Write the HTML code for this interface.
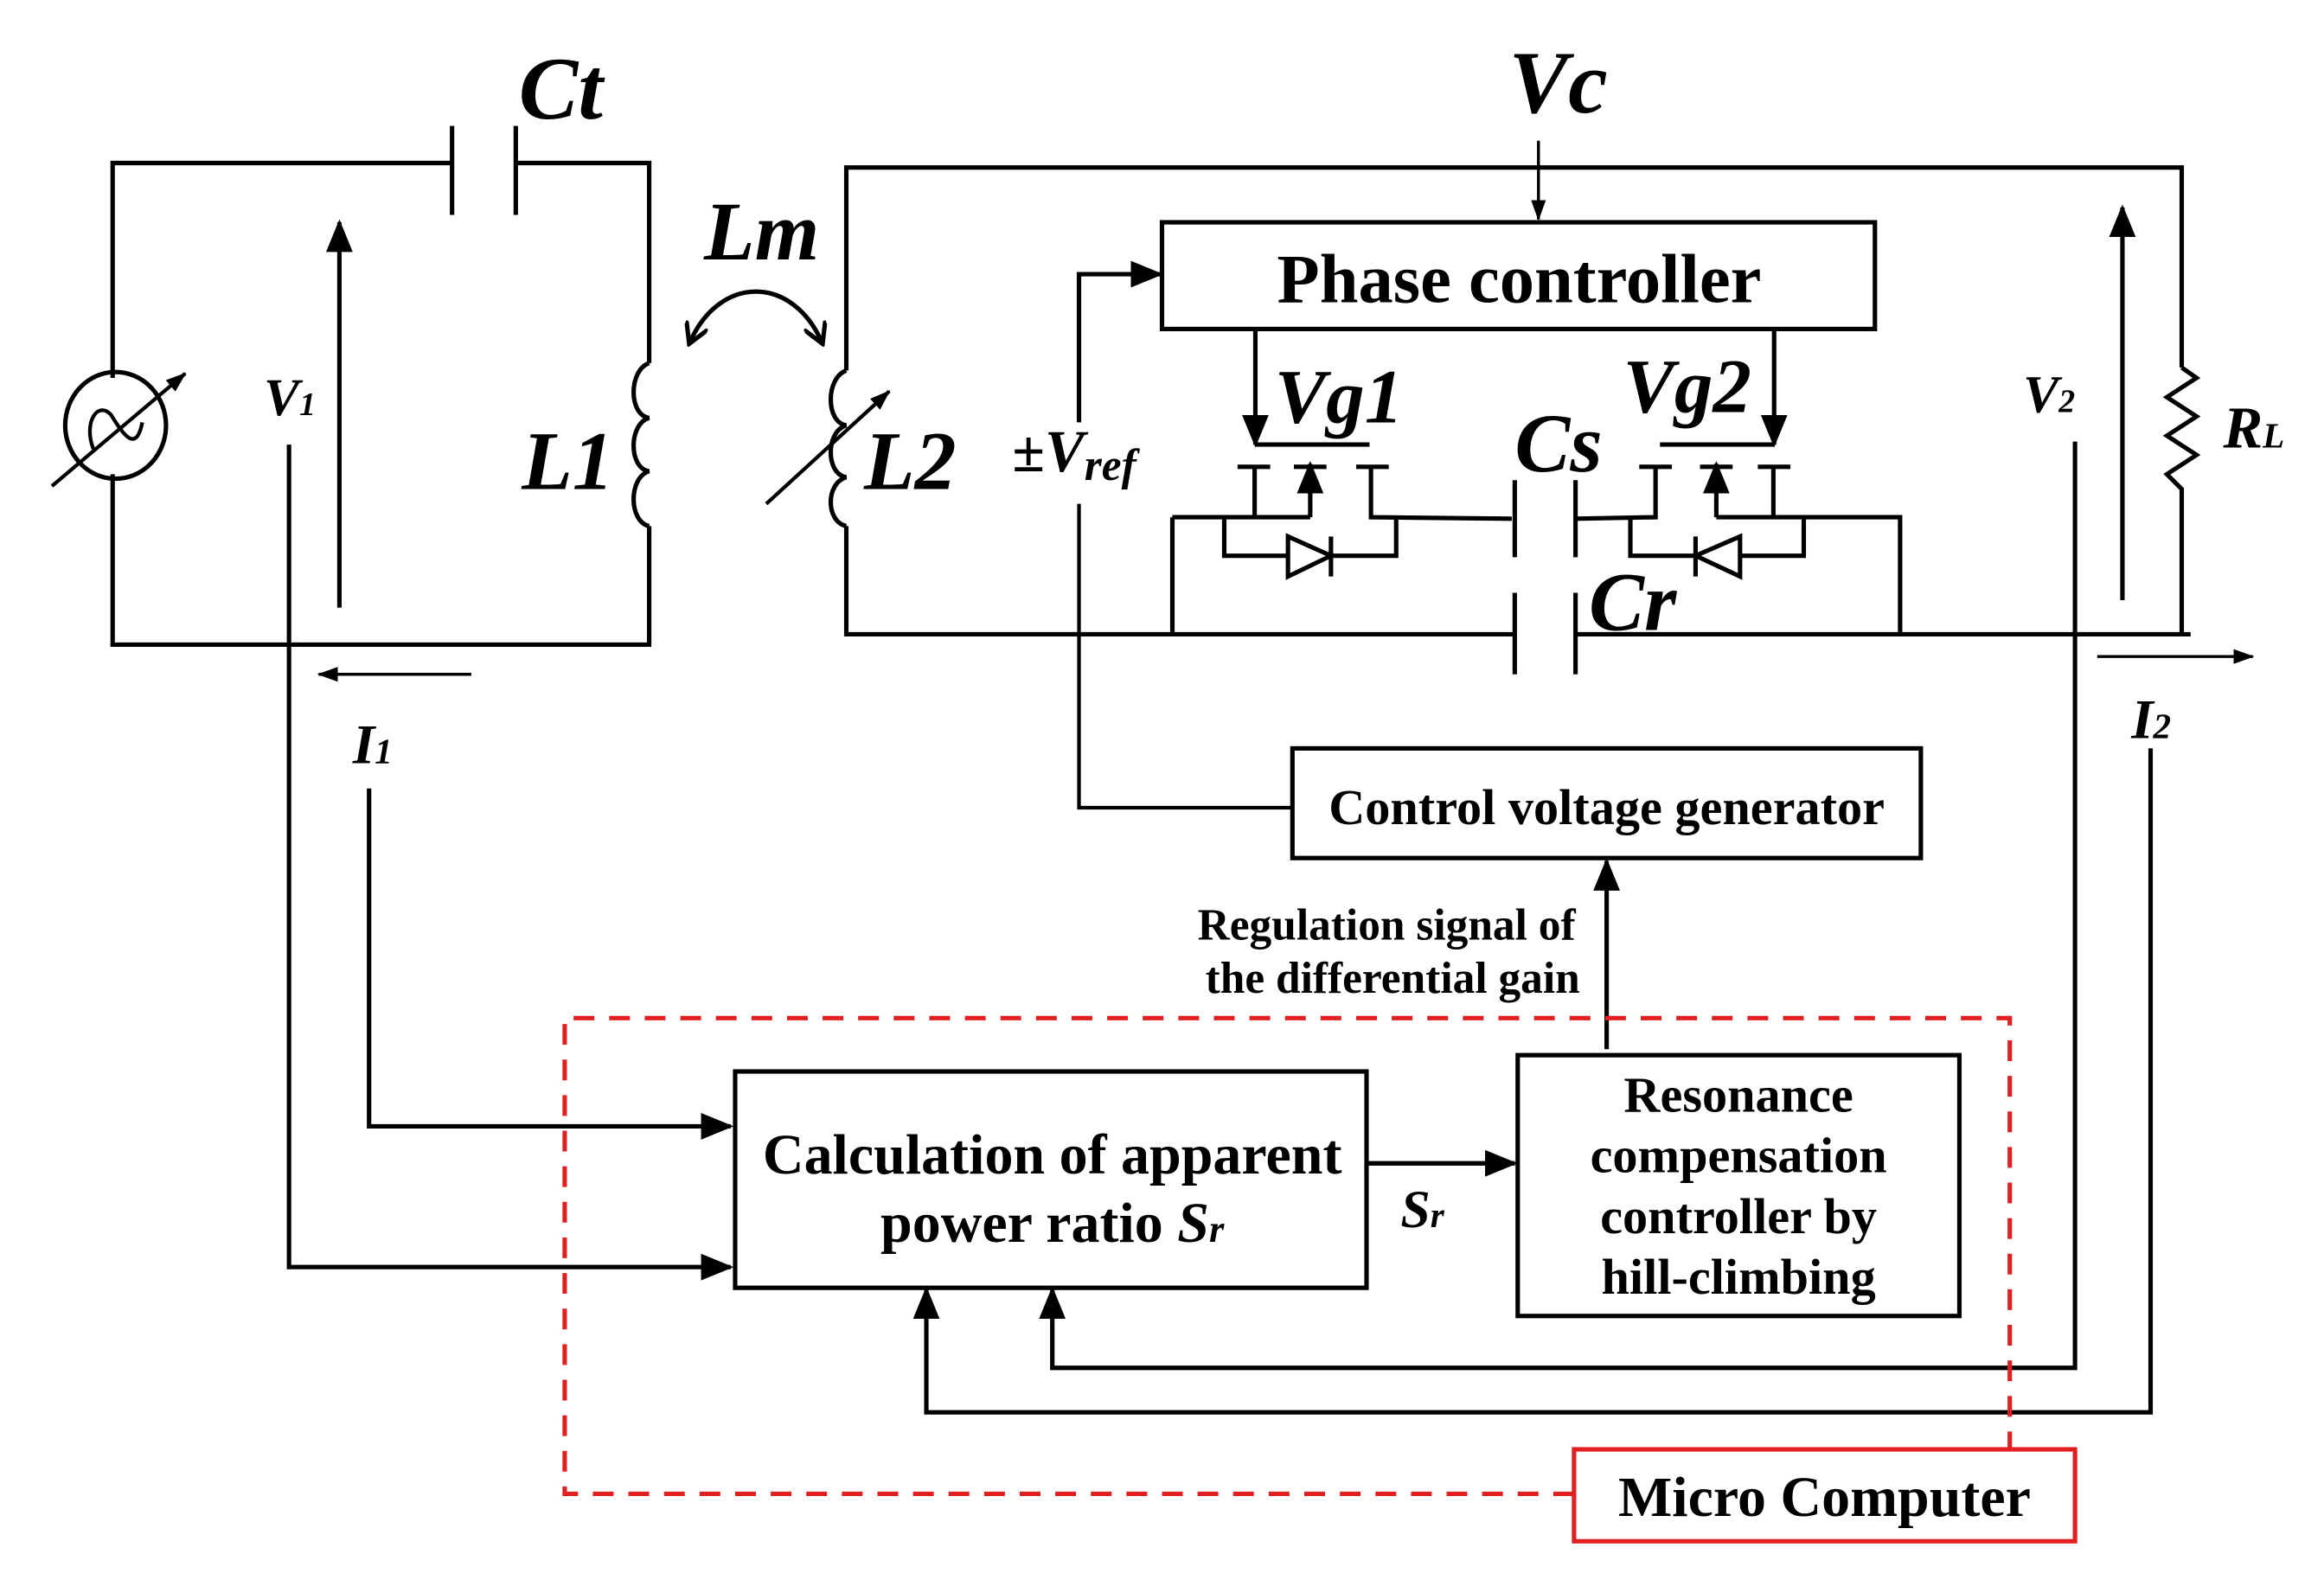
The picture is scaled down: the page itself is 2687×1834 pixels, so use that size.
<!DOCTYPE html>
<html><head><meta charset="utf-8"><style>html,body{margin:0;padding:0;background:#fff}svg{display:block}</style></head>
<body>
<svg width="2687" height="1834" viewBox="0 0 1568 1070.2" preserveAspectRatio="none" xmlns="http://www.w3.org/2000/svg">
<defs>
<marker id="ahb" markerWidth="22" markerHeight="18" refX="20" refY="9" orient="auto" markerUnits="userSpaceOnUse"><path d="M0,0 L22,9 L0,18 Z" fill="#000"/></marker>
<marker id="ahs" markerWidth="14" markerHeight="10" refX="13" refY="5" orient="auto" markerUnits="userSpaceOnUse"><path d="M0,0 L14,5 L0,10 Z" fill="#000"/></marker>
<marker id="ahv" markerWidth="16" markerHeight="16" refX="14" refY="8" orient="auto" markerUnits="userSpaceOnUse"><path d="M0,0 L14,8 L0,16" fill="none" stroke="#000" stroke-width="3"/></marker>
<marker id="ahvs" markerWidth="16" markerHeight="16" refX="2" refY="8" orient="auto" markerUnits="userSpaceOnUse"><path d="M16,0 L2,8 L16,16" fill="none" stroke="#000" stroke-width="3"/></marker>
</defs>
<g fill="none" stroke="#000" stroke-width="3">
<polyline points="76,255 76,110 305,110"/>
<polyline points="348,110 438,110 438,245"/>
<line x1="305" y1="85" x2="305" y2="145"/>
<line x1="348" y1="85" x2="348" y2="145"/>
<polyline points="438,355 438,435 76,435 76,320"/>
<path d="M438,245 C424,250 424,280 438,282 C424,286 424,316 438,318 C424,322 424,352 438,355"/>
<ellipse cx="78" cy="287" rx="34" ry="36"/>
<path d="M63,303 C56,285 66,270 75,280 C84,295 92,305 96,285" stroke-width="2.5"/>
<line x1="35" y1="328" x2="125" y2="252" stroke-width="2.5" marker-end="url(#ahs)"/>
<line x1="229" y1="410" x2="229" y2="150" marker-end="url(#ahb)"/>
<line x1="318" y1="455" x2="215" y2="455" stroke-width="2" marker-end="url(#ahs)"/>
<polyline points="195,300 195,855 493,855" marker-end="url(#ahb)"/>
<polyline points="249,532 249,760 493,760" marker-end="url(#ahb)"/>
<path d="M465,232 C485,185 535,185 555,232" stroke-width="3" marker-start="url(#ahvs)" marker-end="url(#ahv)"/>
<polyline points="571,250 571,113 1472,113 1472,248"/>
<polyline points="571,355 571,428 1022,428"/>
<path d="M571,250 C557,255 557,285 571,287 C557,291 557,320 571,322 C557,326 557,352 571,355"/>
<line x1="517" y1="340" x2="600" y2="264" stroke-width="2.5" marker-end="url(#ahs)"/>
<polyline points="1063,428 1478,428"/>
<polyline points="1472,248 1482,255 1462,268 1482,281 1462,294 1482,307 1462,320 1472,330 1472,428"/>
<line x1="1022" y1="400" x2="1022" y2="455"/>
<line x1="1063" y1="400" x2="1063" y2="455"/>
<line x1="1022" y1="324" x2="1022" y2="376"/>
<line x1="1063" y1="324" x2="1063" y2="376"/>
<line x1="1038" y1="95" x2="1038" y2="148" stroke-width="2" marker-end="url(#ahs)"/>
<rect x="784" y="150" width="481" height="72"/>
<polyline points="728,285 728,185 783,185" marker-end="url(#ahb)"/>
<polyline points="728,340 728,545 872,545" stroke-width="2.5"/>
<rect x="872" y="505" width="424" height="74"/>
<line x1="847" y1="222" x2="847" y2="300" marker-end="url(#ahb)"/>
<line x1="847" y1="300" x2="924" y2="300"/>
<line x1="1197" y1="222" x2="1197" y2="300" marker-end="url(#ahb)"/>
<line x1="1120" y1="300" x2="1197" y2="300"/>
<line x1="835" y1="315" x2="857" y2="315"/>
<line x1="873" y1="315" x2="895" y2="315"/>
<line x1="915" y1="315" x2="937" y2="315"/>
<line x1="846.5" y1="315" x2="846.5" y2="349"/>
<line x1="884" y1="349" x2="884" y2="313" marker-end="url(#ahb)"/>
<polyline points="925,315 925,349 1020,350"/>
<polyline points="791,349 884,349"/>
<line x1="791" y1="349" x2="791" y2="428"/>
<polyline points="826,349 826,375 942,375 942,349"/>
<polygon points="869,362 898,375 869,389" fill="#fff"/>
<line x1="898" y1="362" x2="898" y2="389"/>
<line x1="1106" y1="315" x2="1128" y2="315"/>
<line x1="1147" y1="315" x2="1169" y2="315"/>
<line x1="1186" y1="315" x2="1208" y2="315"/>
<polyline points="1117,315 1117,349 1063,350"/>
<line x1="1158" y1="349" x2="1158" y2="313" marker-end="url(#ahb)"/>
<polyline points="1158,349 1282,349 1282,428"/>
<line x1="1196.5" y1="315" x2="1196.5" y2="349"/>
<polyline points="1100,349 1100,375 1217,375 1217,349"/>
<polygon points="1174,362 1144,375 1174,389" fill="#fff"/>
<line x1="1144" y1="362" x2="1144" y2="389"/>
<line x1="1432" y1="405" x2="1432" y2="140" marker-end="url(#ahb)"/>
<line x1="1415" y1="443" x2="1520" y2="443" stroke-width="2" marker-end="url(#ahs)"/>
<polyline points="1400,298 1400,923 710,923 710,870" marker-end="url(#ahb)"/>
<polyline points="1451,505 1451,953 625,953 625,870" marker-end="url(#ahb)"/>
<rect x="496" y="723" width="426" height="146"/>
<rect x="1024" y="712" width="298" height="176"/>
<line x1="922" y1="785" x2="1022" y2="785" marker-end="url(#ahb)"/>
<line x1="1084" y1="708" x2="1084" y2="581" marker-end="url(#ahb)"/>
<polyline points="1062,1008 381,1008 381,687 1356,687 1356,978" stroke="#e02020" stroke-dasharray="14,10"/>
<rect x="1062" y="978" width="338" height="62" stroke="#e02020"/>
</g>
<g font-family="Liberation Serif, serif" font-weight="bold" fill="#000">
<g font-style="italic">
<text x="350" y="80" font-size="60">Ct</text>
<text x="475" y="175" font-size="56">Lm</text>
<text x="352" y="330" font-size="56">L1</text>
<text x="583" y="330" font-size="56">L2</text>
<text x="178" y="280" font-size="36">V<tspan font-size="22">1</tspan></text>
<text x="238" y="515" font-size="38">I<tspan font-size="24">1</tspan></text>
<text x="1018" y="76" font-size="60">Vc</text>
<text x="860" y="285" font-size="52">Vg1</text>
<text x="1095" y="278" font-size="52">Vg2</text>
<text x="1022" y="318" font-size="56">Cs</text>
<text x="1072" y="425" font-size="56">Cr</text>
<text x="683" y="318" font-size="40"><tspan font-style="normal">±</tspan>V<tspan font-size="30" dy="6">ref</tspan></text>
<text x="1365" y="278" font-size="36">V<tspan font-size="22">2</tspan></text>
<text x="1500" y="302" font-size="40">R<tspan font-size="24">L</tspan></text>
<text x="1438" y="498" font-size="38">I<tspan font-size="24">2</tspan></text>
<text x="945" y="828" font-size="36">S<tspan font-size="24">r</tspan></text>
</g>
<text x="1025" y="204" font-size="47" text-anchor="middle">Phase controller</text>
<text x="1084" y="556" font-size="34" text-anchor="middle">Control voltage generator</text>
<text x="1063" y="634" font-size="30" text-anchor="end">Regulation signal of</text>
<text x="1066" y="670" font-size="30" text-anchor="end">the differential gain</text>
<text x="710" y="792" font-size="38.5" text-anchor="middle">Calculation of apparent</text>
<text x="710" y="838" font-size="38.5" text-anchor="middle">power ratio <tspan font-style="italic">S</tspan><tspan font-style="italic" font-size="26">r</tspan></text>
<text x="1173" y="750" font-size="34" text-anchor="middle">Resonance</text>
<text x="1173" y="791" font-size="34" text-anchor="middle">compensation</text>
<text x="1173" y="832" font-size="34" text-anchor="middle">controller by</text>
<text x="1173" y="873" font-size="34" text-anchor="middle">hill-climbing</text>
<text x="1231" y="1023" font-size="38.5" text-anchor="middle">Micro Computer</text>
</g>
</svg>
</body></html>
